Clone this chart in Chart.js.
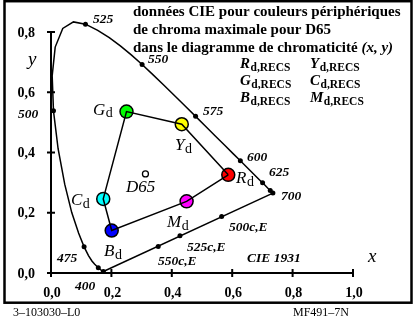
<!DOCTYPE html>
<html lang="fr">
<head>
<meta charset="UTF-8">
<script src="https://cdn.jsdelivr.net/npm/chart.js"></script>
<title>MF491-7N</title>
<style>
    body { margin: 0; background: #ffffff; }
    #wrap { width: 413px; height: 316px; }
</style>
</head>
<body>
<div id="wrap"><canvas id="chart_cie" width="413" height="316"></canvas></div>
<script>
    // spectral locus CIE 1931 (x, y), 380..700 nm
    const locusX = [0.1741, 0.1733, 0.1726, 0.1714, 0.1689, 0.1644, 0.1566, 0.1440, 0.1355, 0.1241, 0.1096,
        0.0913, 0.0687, 0.0454, 0.0235, 0.0082, 0.0039, 0.0139, 0.0389, 0.0743, 0.1142, 0.1547, 0.1929,
        0.2296, 0.2658, 0.3016, 0.3373, 0.3731, 0.4087, 0.4441, 0.4788, 0.5125, 0.5448, 0.5752, 0.6029,
        0.6270, 0.6658, 0.6915, 0.7006, 0.7079, 0.7190, 0.7260, 0.7300, 0.7334, 0.7347];
    const locusY = [0.0050, 0.0048, 0.0048, 0.0051, 0.0069, 0.0109, 0.0177, 0.0297, 0.0399, 0.0578, 0.0868,
        0.1327, 0.2007, 0.2950, 0.4127, 0.5384, 0.6548, 0.7502, 0.8120, 0.8338, 0.8262, 0.8059, 0.7816,
        0.7543, 0.7243, 0.6923, 0.6589, 0.6245, 0.5896, 0.5547, 0.5202, 0.4866, 0.4544, 0.4242, 0.3965,
        0.3725, 0.3340, 0.3083, 0.2993, 0.2920, 0.2809, 0.2740, 0.2700, 0.2666, 0.2653];

    // marked wavelengths (dots) on the locus and on the purple line
    const markLabels = ['400', '450', '475', '500', '525', '550', '575', '600', '625', '650', '700', '500c,E', '525c,E', '550c,E'];
    const markX = [0.1733, 0.1566, 0.1096, 0.0082, 0.1142, 0.3016, 0.4788, 0.6270, 0.7006, 0.7260, 0.7347, 0.565, 0.427, 0.355];
    const markY = [0.0048, 0.0177, 0.0868, 0.5384, 0.8262, 0.6923, 0.5202, 0.3725, 0.2993, 0.2740, 0.2653, 0.188, 0.124, 0.088];

    // RECS colours of maximum chroma
    const colorNames = ['R', 'Y', 'G', 'C', 'B', 'M'];
    const colorX = [0.587, 0.433, 0.250, 0.173, 0.201, 0.449];
    const colorY = [0.326, 0.494, 0.536, 0.246, 0.141, 0.238];
    const colorFill = ['#ff0000', '#ffff00', '#00ff00', '#00ffff', '#0000ff', '#ff00ff'];

    const whiteX = [0.3127];
    const whiteY = [0.3290];

    const ticksX = [0, 0.2, 0.4, 0.6, 0.8, 1.0];
    const tickLabelsX = ['0,0', '0,2', '0,4', '0,6', '0,8', '1,0'];
    const ticksY = [0, 0.2, 0.4, 0.6, 0.8];
    const tickLabelsY = ['0,0', '0,2', '0,4', '0,6', '0,8'];

    const SERIF = "'Liberation Serif', 'Times New Roman', serif";

    function pts(xs, ys) {
        return xs.map((x, i) => ({x: x, y: ys[i]}));
    }

    // polygon R-Y-G-C-B-M-R
    let polyX = colorX.concat([colorX[0]]);
    let polyY = colorY.concat([colorY[0]]);

    function drawSub(ctx, main, sub, x, y, mainFont, subFont, dy) {
        ctx.font = mainFont;
        ctx.fillText(main, x, y);
        let w = ctx.measureText(main).width;
        ctx.font = subFont;
        ctx.fillText(sub, x + w + 0.5, y + dy);
    }

    const cieDecor = {
        id: 'cieDecor',
        beforeDraw(chart) {
            let ctx = chart.ctx;
            ctx.save();
            ctx.fillStyle = '#ffffff';
            ctx.fillRect(0, 0, chart.width, chart.height);
            ctx.restore();
        },
        beforeDatasetsDraw(chart) {
            let ctx = chart.ctx;
            let sx = chart.scales.x, sy = chart.scales.y;
            let x0 = sx.getPixelForValue(0), y0 = sy.getPixelForValue(0);
            ctx.save();
            ctx.strokeStyle = '#000';
            ctx.lineWidth = 2;
            ctx.beginPath();
            ctx.moveTo(x0, y0);
            ctx.lineTo(x0, sy.getPixelForValue(0.8));
            ctx.moveTo(x0, y0);
            ctx.lineTo(sx.getPixelForValue(1.0), y0);
            ticksY.forEach(v => {
                let p = sy.getPixelForValue(v);
                ctx.moveTo(x0 - 4, p);
                ctx.lineTo(x0 + 4, p);
            });
            ticksX.forEach(v => {
                let p = sx.getPixelForValue(v);
                ctx.moveTo(p, y0 - 4);
                ctx.lineTo(p, y0 + 4);
            });
            ctx.stroke();

            ctx.fillStyle = '#000';
            ctx.font = 'bold 14px ' + SERIF;
            ctx.textAlign = 'right';
            ctx.textBaseline = 'middle';
            ticksY.forEach((v, i) => {
                ctx.fillText(tickLabelsY[i], 35, sy.getPixelForValue(v) + 1);
            });
            ctx.textAlign = 'center';
            ctx.textBaseline = 'alphabetic';
            ticksX.forEach((v, i) => {
                ctx.fillText(tickLabelsX[i], sx.getPixelForValue(v) + 1, 297);
            });
            ctx.restore();
        },
        afterDraw(chart) {
            let ctx = chart.ctx;
            let sx = chart.scales.x, sy = chart.scales.y;
            ctx.save();
            ctx.fillStyle = '#000';
            ctx.strokeStyle = '#000';

            // frame
            ctx.lineWidth = 2.5;
            ctx.strokeRect(4.5, 1.2, 407, 301.5);

            // title
            ctx.textAlign = 'left';
            ctx.textBaseline = 'alphabetic';
            ctx.font = 'bold 15px ' + SERIF;
            ctx.fillText('données CIE pour couleurs périphériques', 133, 16);
            ctx.fillText('de chroma maximale pour D65', 133, 34);
            let t3 = 'dans le diagramme de chromaticité ';
            ctx.fillText(t3, 133, 52);
            let w3 = ctx.measureText(t3).width;
            ctx.font = 'italic bold 15px ' + SERIF;
            ctx.fillText('(x, y)', 133 + w3, 52);

            // RECS list
            let mainF = 'italic bold 15px ' + SERIF, subF = 'bold 11.5px ' + SERIF;
            drawSub(ctx, 'R', 'd,RECS', 240, 68, mainF, subF, 3);
            drawSub(ctx, 'Y', 'd,RECS', 310, 68, mainF, subF, 3);
            drawSub(ctx, 'G', 'd,RECS', 240, 85, mainF, subF, 3);
            drawSub(ctx, 'C', 'd,RECS', 310, 85, mainF, subF, 3);
            drawSub(ctx, 'B', 'd,RECS', 240, 102, mainF, subF, 3);
            drawSub(ctx, 'M', 'd,RECS', 310, 102, mainF, subF, 3);

            // wavelength labels
            ctx.font = 'italic bold 13.5px ' + SERIF;
            let wl = [['525', 93, 23], ['550', 148, 63], ['575', 203, 115], ['600', 247, 161], ['625', 269, 176],
                ['700', 281, 200], ['500', 18, 118], ['475', 57, 262], ['400', 75, 290],
                ['500c,E', 229, 231], ['525c,E', 187, 251], ['550c,E', 158, 265], ['CIE 1931', 247, 262]];
            wl.forEach(l => ctx.fillText(l[0], l[1], l[2]));

            // axis names
            ctx.font = 'italic 19px ' + SERIF;
            ctx.fillText('x', 368, 262);
            ctx.fillText('y', 28, 65);

            // colour labels
            let lm = 'italic 17px ' + SERIF, ls = '14px ' + SERIF;
            drawSub(ctx, 'G', 'd', 93, 115, lm, ls, 2);
            drawSub(ctx, 'Y', 'd', 175, 150, lm, ls, 3);
            drawSub(ctx, 'R', 'd', 236, 183, lm, ls, 3);
            drawSub(ctx, 'M', 'd', 167, 227, lm, ls, 3);
            drawSub(ctx, 'B', 'd', 104, 256, lm, ls, 3);
            drawSub(ctx, 'C', 'd', 71, 205, lm, ls, 3);
            ctx.font = 'italic 17px ' + SERIF;
            ctx.fillText('D65', 126, 192);

            // footer
            ctx.font = '12px ' + SERIF;
            ctx.fillText('3–103030–L0', 13, 316);
            ctx.fillText('MF491–7N', 293, 316);
            ctx.restore();
        }
    };

    let ctx = document.getElementById('chart_cie').getContext('2d');
    let chart = new Chart(ctx, {
        type: 'scatter',
        data: {
            datasets: [
                {
                    label: 'locus',
                    data: pts(locusX, locusY),
                    showLine: true,
                    borderColor: '#000',
                    borderWidth: 1.5,
                    pointRadius: 0
                },
                {
                    label: 'purple line',
                    data: [{x: locusX[locusX.length - 1], y: locusY[locusY.length - 1]}, {x: locusX[1], y: locusY[1]}],
                    showLine: true,
                    borderColor: '#000',
                    borderWidth: 1.5,
                    pointRadius: 0
                },
                {
                    label: 'marks',
                    data: pts(markX, markY),
                    pointRadius: 2.5,
                    backgroundColor: '#000',
                    borderColor: '#000',
                    borderWidth: 0
                },
                {
                    label: 'polygon',
                    data: pts(polyX, polyY),
                    showLine: true,
                    borderColor: '#000',
                    borderWidth: 1.5,
                    pointRadius: 0
                },
                {
                    label: 'RECS',
                    data: pts(colorX, colorY),
                    pointRadius: 6.5,
                    backgroundColor: colorFill,
                    borderColor: '#000',
                    borderWidth: 1.5
                },
                {
                    label: 'D65',
                    data: pts(whiteX, whiteY),
                    pointRadius: 3,
                    backgroundColor: '#fff',
                    borderColor: '#000',
                    borderWidth: 1.3
                }
            ]
        },
        options: {
            responsive: false,
            animation: false,
            clip: false,
            layout: {padding: {left: 51, right: 60, top: 8, bottom: 43}},
            plugins: {legend: {display: false}, tooltip: {enabled: false}},
            scales: {
                x: {type: 'linear', min: 0, max: 1, display: false},
                y: {type: 'linear', min: 0, max: 0.88, display: false}
            }
        },
        plugins: [cieDecor]
    });
</script>
</body>
</html>
